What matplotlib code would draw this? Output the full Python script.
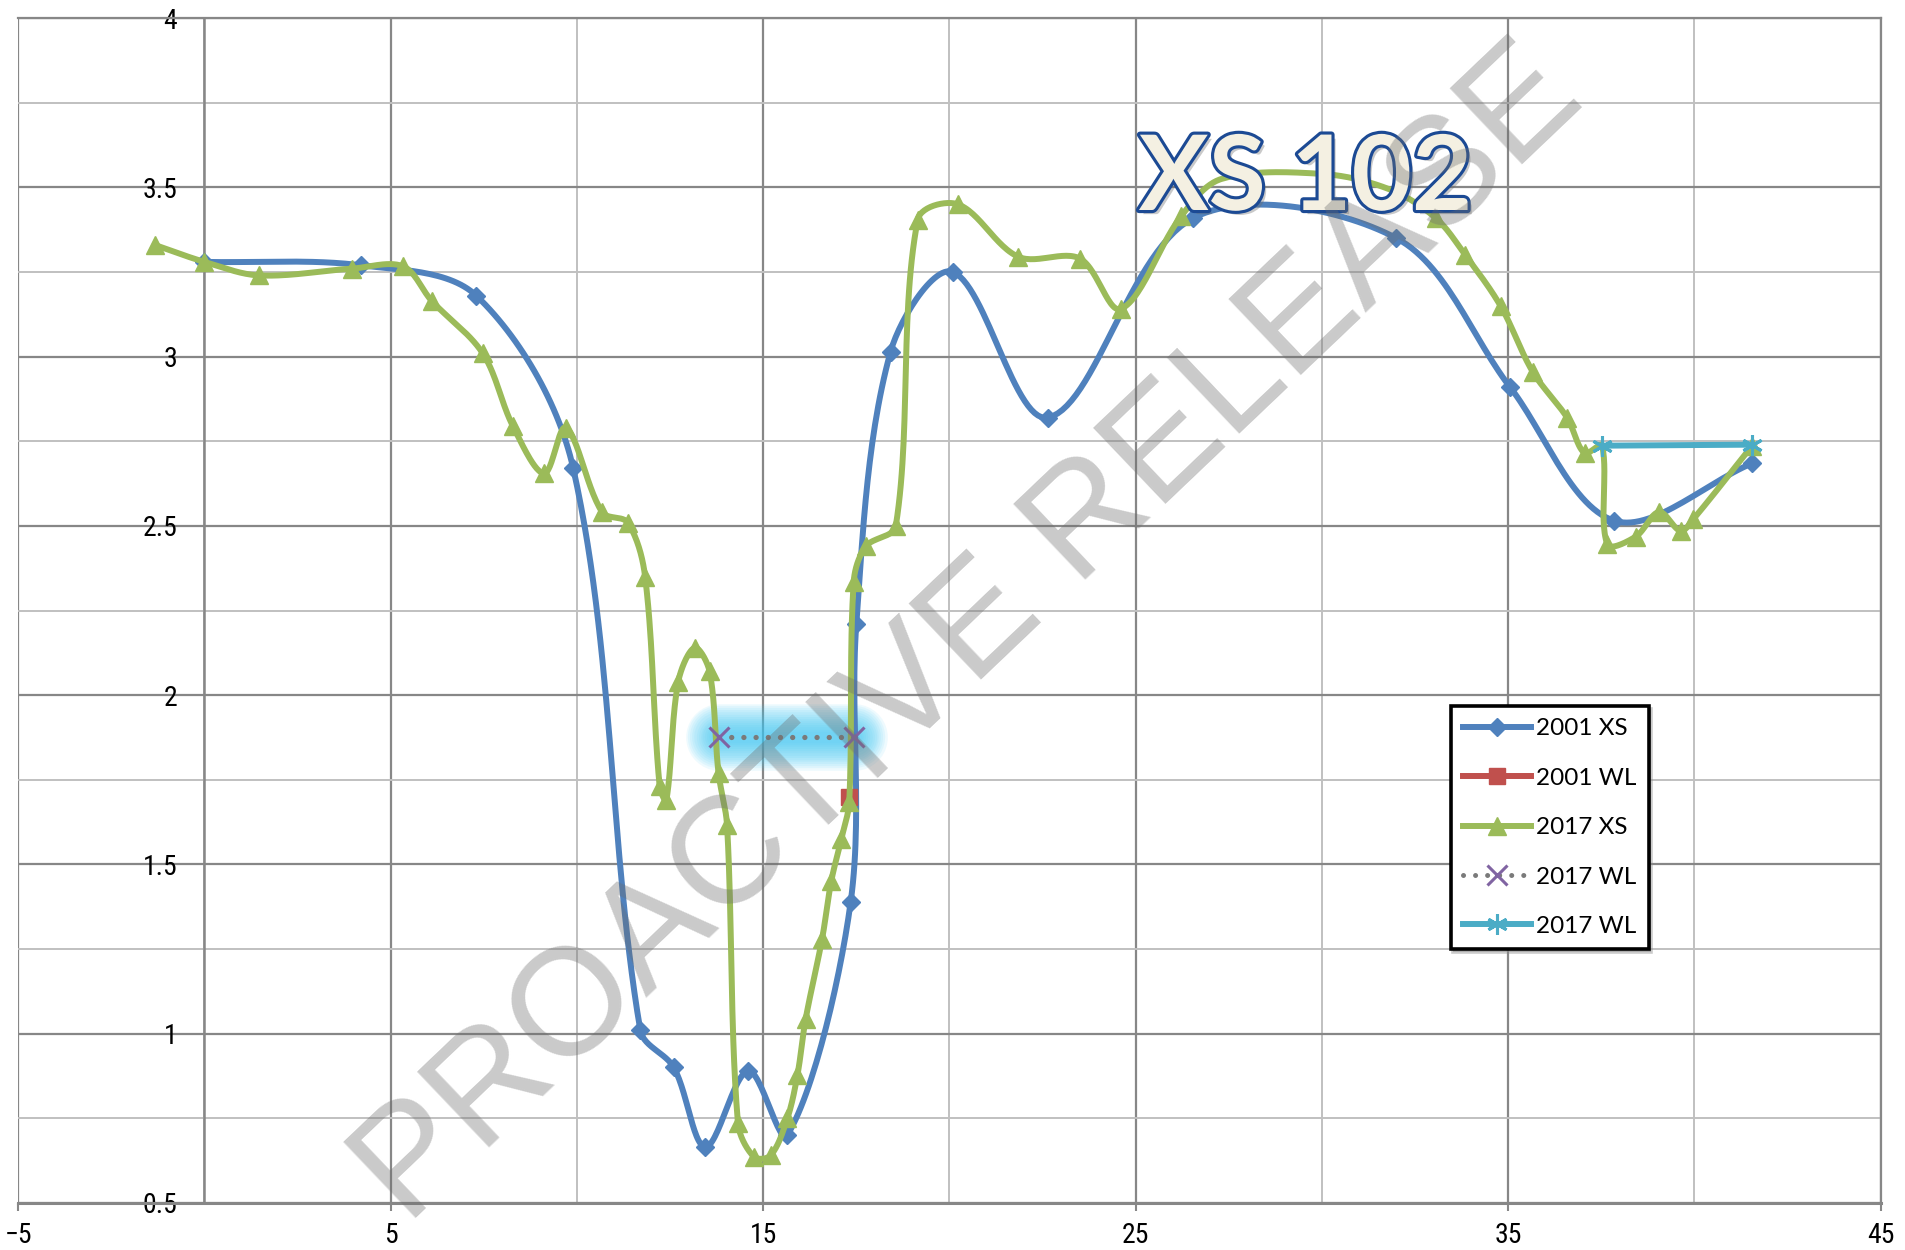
import numpy as np
import matplotlib
matplotlib.use("Agg")
import matplotlib.pyplot as plt
from matplotlib import font_manager
from matplotlib import patheffects as pe
from matplotlib.lines import Line2D
from matplotlib.ticker import FixedLocator, FixedFormatter, NullFormatter

# ---------------- data ----------------
x2001_xs = [0.0, 4.2, 7.3, 9.9, 11.7, 12.6, 13.45, 14.6, 15.65, 17.35, 17.5, 18.42,
            20.1, 22.65, 26.55, 32.0, 35.05, 37.85, 41.55]
y2001_xs = [3.28, 3.27, 3.18, 2.67, 1.01, 0.90, 0.665, 0.89, 0.70, 1.39, 2.21, 3.015,
            3.25, 2.82, 3.41, 3.35, 2.91, 2.515, 2.685]

x2001_wl = [17.3]
y2001_wl = [1.70]

x2017_xs = [-1.33, 0.0, 1.47, 3.95, 5.33, 6.1, 7.47, 8.28, 9.12, 9.7, 10.68, 11.36,
            11.83, 12.22, 12.4, 12.72, 13.16, 13.56, 13.8, 14.03, 14.32, 14.75, 15.2,
            15.65, 15.92, 16.14, 16.58, 16.83, 17.1, 17.31, 17.43, 17.76, 18.56, 19.15,
            20.23, 21.85, 23.5, 24.6, 26.22, 27.3, 30.0, 31.8, 33.05, 33.85, 34.8,
            35.66, 36.58, 37.05, 37.52, 37.66, 38.42, 39.05, 39.63, 39.97, 41.55]
y2017_xs = [3.33, 3.28, 3.24, 3.26, 3.267, 3.165, 3.01, 2.795, 2.655, 2.79, 2.54, 2.51,
            2.35, 1.73, 1.69, 2.04, 2.14, 2.07, 1.77, 1.615, 0.737, 0.636, 0.64,
            0.75, 0.878, 1.043, 1.279, 1.452, 1.576, 1.685, 2.335, 2.44, 2.50, 3.405,
            3.45, 3.295, 3.29, 3.141, 3.415, 3.525, 3.54, 3.495, 3.41, 3.30, 3.149,
            2.955, 2.82, 2.715, 2.737, 2.446, 2.468, 2.541, 2.485, 2.52, 2.737]
# points of the 2017 XS whose markers are hidden (under title / star)
hidden_2017 = [27.3, 30.0, 31.8, 37.52]

x2017_wl_a = [13.8, 17.45]
y2017_wl_a = [1.875, 1.875]

x2017_wl_b = [37.52, 41.55]
y2017_wl_b = [2.737, 2.74]

labels = ["2001 XS", "2001 WL", "2017 XS", "2017 WL", "2017 WL"]
x_ticks = [-5, 5, 15, 25, 35, 45]
x_minor = [0, 10, 20, 30, 40]
y_ticks = [0.5, 1, 1.5, 2, 2.5, 3, 3.5, 4]
y_tick_labels = ["0.5", "1", "1.5", "2", "2.5", "3", "3.5", "4"]
y_minor = [0.75, 1.25, 1.75, 2.25, 2.75, 3.25, 3.75]
title_text = "XS 102"
watermark_text = "PROACTIVE RELEASE"

# ---------------- fonts ----------------
avail = {f.name for f in font_manager.fontManager.ttflist}
def pick(*names):
    for n in names:
        if n in avail:
            return n
    return "DejaVu Sans"
narrow = pick("Liberation Sans Narrow", "Roboto Condensed", "Open Sans Condensed", "Liberation Sans")
legend_font = pick("Lato", "Open Sans", "Liberation Sans")
title_font = pick("Lato", "Open Sans", "Liberation Sans")
wm_font = pick("Liberation Sans", "DejaVu Sans")

# ---------------- colours ----------------
C_BLUE = "#4f81bd"
C_RED = "#c0504d"
C_GREEN = "#9bbb59"
C_PURPLE = "#8064a2"
C_CYAN = "#4bacc6"
C_GRAY = "#7a7a7a"
C_MAJ = "#878787"
C_MIN = "#c0c0c0"

W, H = 1905, 1250
L, R, T, B = 18.2, 1880.7, 18.2, 1202.8
XMIN, XMAX, YMIN, YMAX = -5, 45, 0.5, 4
KX = (R - L) / (XMAX - XMIN)   # px per x unit
KY = (B - T) / (YMAX - YMIN)   # px per y unit


def excel_smooth(xs, ys, n=30):
    """Bezier smoothing with chord-length-scaled tangents (screen space)."""
    P = np.column_stack([np.asarray(xs, float) * KX, np.asarray(ys, float) * KY])
    m = len(P)
    out = [P[0]]
    t = np.linspace(0, 1, n)[1:, None]
    def d(a, b):
        return np.hypot(*(a - b))
    for i in range(m - 1):
        p0 = P[i - 1] if i > 0 else P[i]
        p1 = P[i]
        p2 = P[i + 1]
        p3 = P[i + 2] if i + 2 < m else P[i + 1]
        d01, d12, d23 = d(p0, p1), d(p1, p2), d(p2, p3)
        f1 = d12 / (d01 + d12) / 3 if d01 + d12 > 0 else 0
        f2 = d12 / (d12 + d23) / 3 if d12 + d23 > 0 else 0
        c1 = p1 + (p2 - p0) * f1
        c2 = p2 - (p3 - p1) * f2
        seg = ((1 - t) ** 3) * p1 + 3 * ((1 - t) ** 2) * t * c1 + 3 * (1 - t) * t ** 2 * c2 + t ** 3 * p2
        out.extend(seg)
    out = np.array(out)
    return out[:, 0] / KX, out[:, 1] / KY


fig = plt.figure(figsize=(W / 100, H / 100), dpi=100)
fig.patch.set_facecolor("white")
ax = fig.add_axes([L / W, 1 - B / H, (R - L) / W, (B - T) / H])
ax.set_xlim(XMIN, XMAX)
ax.set_ylim(YMIN, YMAX)

# grid
ax.xaxis.set_major_locator(FixedLocator(x_ticks))
ax.xaxis.set_minor_locator(FixedLocator(x_minor))
ax.yaxis.set_major_locator(FixedLocator(y_ticks))
ax.yaxis.set_major_formatter(FixedFormatter(y_tick_labels))
ax.yaxis.set_minor_locator(FixedLocator(y_minor))
ax.xaxis.set_minor_formatter(NullFormatter())
ax.yaxis.set_minor_formatter(NullFormatter())
ax.set_axisbelow(True)
ax.grid(which="major", color=C_MAJ, lw=1.6)
ax.grid(which="minor", color=C_MIN, lw=1.4)

for s in ["top", "right"]:
    ax.spines[s].set_color(C_MAJ)
    ax.spines[s].set_linewidth(1.6)
ax.spines["left"].set_position(("data", 0))
ax.spines["left"].set_color(C_MAJ)
ax.spines["left"].set_linewidth(1.8)
ax.spines["bottom"].set_color(C_MAJ)
ax.spines["bottom"].set_linewidth(2.2)

ax.tick_params(axis="x", which="major", direction="out", length=6, width=1.5,
               color=C_MAJ, pad=8, labelsize=20)
ax.tick_params(axis="x", which="minor", length=0)
ax.tick_params(axis="y", which="both", length=0, pad=19.5, labelsize=20)
for lab in ax.get_xticklabels() + ax.get_yticklabels():
    lab.set_fontfamily(narrow)

LW = 4.3

# glow around 2017 WL (dotted)
for w in np.linspace(48, 8, 14):
    ax.plot(x2017_wl_a, y2017_wl_a, color="#3ec8f4", lw=w, alpha=0.085,
            solid_capstyle="round", zorder=2)

# 2001 XS
sx, sy = excel_smooth(x2001_xs, y2001_xs)
ax.plot(sx, sy, color=C_BLUE, lw=LW, zorder=3, solid_capstyle="round")
ax.plot(x2001_xs, y2001_xs, ls="none", marker="D", ms=9.5, color=C_BLUE, zorder=3)

# 2001 WL
ax.plot(x2001_wl, y2001_wl, ls="-", lw=LW, marker="s", ms=12, color=C_RED, zorder=3.5)

# 2017 XS
gx, gy = excel_smooth(x2017_xs, y2017_xs)
ax.plot(gx, gy, color=C_GREEN, lw=LW, zorder=4, solid_capstyle="round")
show = [xv not in hidden_2017 for xv in x2017_xs]
ax.plot(x2017_xs, y2017_xs, ls="none", marker="^", ms=13, color=C_GREEN,
        markevery=show, zorder=4)

# 2017 WL dotted
ax.plot(x2017_wl_a, y2017_wl_a, color=C_GRAY, lw=3.8, ls=(0, (0.01, 2.3)),
        dash_capstyle="round", zorder=5)
ax.plot(x2017_wl_a, y2017_wl_a, ls="none", marker="x", ms=15, mew=2.2,
        color=C_PURPLE, zorder=5)

# 2017 WL cyan
ax.plot(x2017_wl_b, y2017_wl_b, color=C_CYAN, lw=LW, zorder=5.5,
        marker=(6, 2, 0), ms=15, mew=2.2, mec=C_CYAN)

# legend
handles = [
    Line2D([], [], color=C_BLUE, lw=LW, marker="D", ms=9.5),
    Line2D([], [], color=C_RED, lw=LW, marker="s", ms=12),
    Line2D([], [], color=C_GREEN, lw=LW, marker="^", ms=13),
    Line2D([], [], color=C_GRAY, lw=3.6, ls=(0, (0.01, 2.4)), dash_capstyle="round",
           marker="x", ms=15, mew=2.2, mec=C_PURPLE),
    Line2D([], [], color=C_CYAN, lw=LW, marker=(6, 2, 0), ms=15, mew=2.2, mec=C_CYAN),
]
leg = ax.legend(handles, labels, loc="upper left",
                bbox_to_anchor=(1450.6 / W, 1 - 706 / H), bbox_transform=fig.transFigure,
                borderaxespad=0, prop={"family": legend_font, "size": 17.5},
                handlelength=2.8, handletextpad=0.22, labelspacing=1.17, borderpad=0.5,
                frameon=True, fancybox=False, framealpha=1, edgecolor="black",
                shadow={"color": "0.55", "alpha": 0.45})
leg.get_frame().set_linewidth(2.6)
leg.set_zorder(10)

# title
fig.text(1305.5 / W, 1 - 210 / H, title_text, ha="center", va="baseline",
         fontsize=75, fontweight="bold", family=title_font, color="#f4f0e2",
         zorder=11,
         path_effects=[pe.withSimplePatchShadow(offset=(3, -3), shadow_rgbFace="0.4", alpha=0.35),
                       pe.withStroke(linewidth=4.5, foreground="#1c4a94")])

# watermark
fig.text(997 / W, 1 - 664 / H, watermark_text, ha="center", va="baseline",
         rotation=43.6, rotation_mode="anchor", fontsize=110, family=wm_font,
         color="#6d6d6d", alpha=0.36, zorder=12)

fig.savefig("out.png", dpi=100, facecolor="white")
